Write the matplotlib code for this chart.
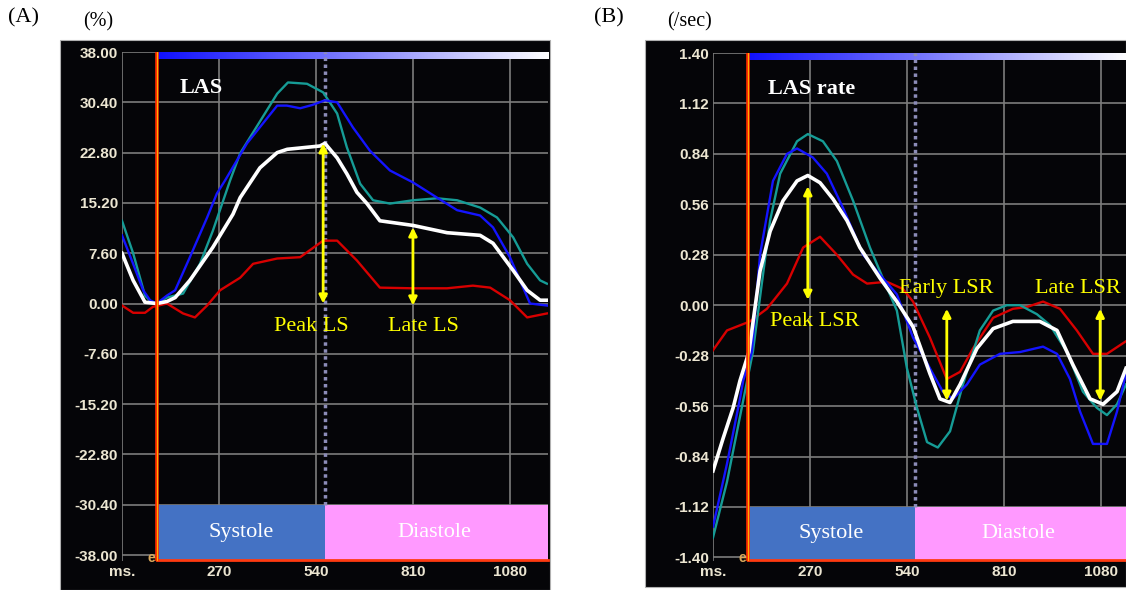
import numpy as np
import matplotlib.pyplot as plt
from matplotlib.patches import Rectangle
from matplotlib.colors import LinearSegmentedColormap

W, H = 1126, 590

# ---------------- panel A: LA strain (%) ----------------
a_yticks = [38.0, 30.4, 22.8, 15.2, 7.6, 0.0, -7.6, -15.2, -22.8, -30.4, -38.0]
a_ylabels = ["38.00", "30.40", "22.80", "15.20", "7.60", "0.00",
             "-7.60", "-15.20", "-22.80", "-30.40", "-38.00"]

a_white_ms = [0, 31, 64, 97, 125, 148, 189, 253, 309, 329, 384, 432, 460, 551, 565,
              599, 626, 654, 682, 718, 810, 905, 997, 1033, 1089, 1128, 1164, 1186]
a_white = [7.6, 3.5, 0.2, 0.0, 0.3, 0.9, 3.5, 8.5, 13.5, 16.0, 20.5, 22.8, 23.3, 23.8, 24.2,
           22.0, 19.6, 16.8, 15.1, 12.5, 11.8, 10.7, 10.3, 9.1, 5.0, 2.0, 0.5, 0.5]

a_blue_ms = [0, 31, 59, 78, 97, 125, 148, 189, 237, 264, 287, 348, 432, 459, 496, 530,
             565, 599, 643, 690, 746, 810, 877, 933, 997, 1033, 1080, 1108, 1136, 1183]
a_blue = [10.3, 6.0, 2.0, 0.5, 0.0, 1.2, 2.0, 7.0, 13.0, 16.6, 18.6, 24.2, 29.9, 29.9, 29.5, 30.0,
          30.7, 30.4, 26.6, 23.1, 20.1, 18.3, 16.0, 14.1, 13.3, 11.5, 7.0, 3.5, 0.0, -0.3]

a_teal_ms = [0, 31, 64, 86, 97, 125, 170, 217, 253, 301, 329, 432, 462, 515, 560,
             599, 626, 663, 699, 746, 810, 877, 933, 997, 1044, 1089, 1128, 1164, 1183]
a_teal = [12.5, 7.6, 1.2, 0.0, 0.0, 0.9, 1.5, 6.0, 11.0, 18.6, 22.7, 31.7, 33.4, 33.2, 31.9,
          28.7, 23.6, 18.1, 15.6, 15.1, 15.6, 15.9, 15.6, 14.5, 13.0, 10.0, 6.0, 3.5, 3.0]

a_red_ms = [0, 31, 64, 86, 125, 170, 203, 237, 273, 329, 365, 432, 496, 560,
            599, 654, 718, 810, 905, 977, 1025, 1080, 1128, 1183]
a_red = [-0.3, -1.4, -1.4, -0.5, 0.0, -1.5, -2.1, -0.3, 2.0, 3.9, 6.0, 6.8, 7.0, 9.5,
         9.5, 6.5, 2.4, 2.3, 2.3, 2.7, 2.4, 0.5, -2.1, -1.5]

# ---------------- panel B: LA strain rate (/sec) ----------------
b_yticks = [1.40, 1.12, 0.84, 0.56, 0.28, 0.0, -0.28, -0.56, -0.84, -1.12, -1.40]
b_ylabels = ["1.40", "1.12", "0.84", "0.56", "0.28", "0.00",
             "-0.28", "-0.56", "-0.84", "-1.12", "-1.40"]

b_white_ms = [0, 28, 56, 75, 100, 131, 159, 195, 234, 264, 298, 334, 373, 409, 465, 512,
              557, 604, 632, 660, 688, 735, 780, 835, 910, 958, 1002, 1050, 1086, 1125, 1150]
b_white = [-0.92, -0.74, -0.57, -0.42, -0.26, 0.19, 0.41, 0.58, 0.69, 0.72, 0.68, 0.59, 0.47, 0.32,
           0.15, 0.02, -0.12, -0.38, -0.52, -0.54, -0.44, -0.24, -0.13, -0.09, -0.09, -0.14,
           -0.33, -0.52, -0.55, -0.48, -0.35]

b_blue_ms = [0, 39, 75, 84, 108, 131, 167, 206, 234, 278, 317, 362, 418, 465, 512, 557, 604,
             640, 668, 707, 743, 799, 855, 919, 958, 994, 1022, 1058, 1097, 1125, 1150]
b_blue = [-1.23, -0.88, -0.52, -0.42, -0.26, 0.28, 0.69, 0.84, 0.87, 0.82, 0.73, 0.54, 0.28,
          0.17, 0.06, -0.18, -0.35, -0.48, -0.52, -0.44, -0.33, -0.27, -0.26, -0.23, -0.27,
          -0.41, -0.59, -0.77, -0.77, -0.59, -0.38]

b_teal_ms = [0, 39, 95, 111, 159, 187, 234, 264, 306, 345, 390, 437, 473, 512, 540, 568,
             596, 626, 660, 696, 743, 780, 818, 855, 902, 938, 986, 1030, 1069, 1097, 1125, 1150]
b_teal = [-1.29, -0.98, -0.42, -0.26, 0.47, 0.73, 0.91, 0.95, 0.91, 0.80, 0.58, 0.32, 0.15,
          -0.03, -0.35, -0.57, -0.76, -0.79, -0.70, -0.44, -0.14, -0.03, 0.0, 0.0, -0.05,
          -0.11, -0.26, -0.48, -0.57, -0.61, -0.55, -0.44]

b_red_ms = [0, 39, 103, 150, 206, 251, 298, 345, 390, 429, 484, 529, 557, 604, 651, 688,
            724, 780, 835, 874, 919, 966, 1013, 1058, 1097, 1150]
b_red = [-0.25, -0.14, -0.09, -0.02, 0.12, 0.32, 0.38, 0.28, 0.17, 0.12, 0.13, 0.09, 0.02,
         -0.18, -0.41, -0.37, -0.24, -0.07, -0.02, -0.01, 0.02, -0.02, -0.14, -0.27, -0.27, -0.20]

x_ticks = [0, 270, 540, 810, 1080]
x_labels = ["ms.", "270", "540", "810", "1080"]

SERIF = "Liberation Serif"
SANS = "Liberation Sans"
TICK_COL = "#ECE6D2"
BLUE = "#1414FF"
TEAL = "#169C96"
RED = "#D80000"
SYS_COL = "#4472C4"
DIA_COL = "#FF99FF"

bar_cmap = LinearSegmentedColormap.from_list("bar", ["#1010FF", "#8080FF", "#FFFFFF"])


def fig_box(x0, y0, x1, y1):
    return [x0 / W, 1 - y1 / H, (x1 - x0) / W, (y1 - y0) / H]


def style_panel(ax, yticks, ylabels, xmax, ymin, ymax, onset, split, box_top, unit):
    ax.set_facecolor("#050508")
    for s in ax.spines.values():
        s.set_visible(False)
    ax.set_yticks(yticks, labels=ylabels, fontsize=11, fontweight="bold",
                  color=TICK_COL, family=SANS)
    ax.set_xticks(x_ticks, labels=x_labels, fontsize=11, fontweight="bold",
                  color=TICK_COL, family=SANS)
    ax.tick_params(length=0, pad=3)
    ax.grid(True, color="#7C7C7C", lw=1.2)

    # blue -> white bar along top
    grad = np.linspace(0, 1, 256).reshape(1, -1)
    ax.imshow(grad, cmap=bar_cmap, aspect="auto", zorder=3,
              extent=[onset, xmax, ymax - 7 * unit, ymax])

    # systole / diastole boxes
    ax.add_patch(Rectangle((onset, ymin), split - onset, box_top - ymin,
                           facecolor=SYS_COL, edgecolor="none", zorder=3))
    ax.add_patch(Rectangle((split, ymin), xmax - split, box_top - ymin,
                           facecolor=DIA_COL, edgecolor="none", zorder=3))
    ax.text((onset + split) / 2, (box_top + ymin) / 2, "Systole", color="white",
            family=SERIF, fontsize=16, ha="center", va="center", zorder=4)
    ax.text((split + xmax) / 2 - 5, (box_top + ymin) / 2, "Diastole", color="white",
            family=SERIF, fontsize=16, ha="center", va="center", zorder=4)
    ax.plot([onset, xmax], [ymin + unit * 0.6, ymin + unit * 0.6], color="#FF3A10",
            lw=2, zorder=5, clip_on=False)

    # dotted end-systole marker and onset line
    ax.plot([split, split], [box_top, ymax], color="#8C8CB8", lw=2.5,
            ls=(0, (1, 1)), zorder=3)
    ax.plot([onset, onset], [ymin, ymax], color="#FF2A00", lw=2.6, zorder=6)
    ax.plot([onset, onset], [ymin, ymax], color="#FFB000", lw=0.8, zorder=6)
    ax.text(onset - 4, ymin + 3.5 * unit, "e", color="#D9A85B", fontsize=10,
            fontweight="bold", family=SANS, ha="right", va="center", zorder=6)

    ax.set_xlim(0, xmax)
    ax.set_ylim(ymin, ymax)


def yellow_arrow(ax, x, y0, y1):
    ax.annotate("", xy=(x, y1), xytext=(x, y0),
                arrowprops=dict(arrowstyle="<|-|>", color="#FFFF00", lw=2,
                                mutation_scale=12, shrinkA=0, shrinkB=0), zorder=7)


def yellow_text(ax, x, y, s, ha="center"):
    ax.text(x, y, s, color="#FFFF00", family=SERIF, fontsize=16, ha=ha,
            va="center", zorder=7)


fig = plt.figure(figsize=(W / 100, H / 100), dpi=100)
fig.patch.set_facecolor("white")

# black instrument backgrounds
fig.add_artist(Rectangle((60 / W, 0), 490 / W, 550 / H, transform=fig.transFigure,
                         facecolor="#050508", edgecolor="#B0B0B0", lw=0.8, zorder=-1))
fig.add_artist(Rectangle((645 / W, 3 / H), 481 / W, 547 / H, transform=fig.transFigure,
                         facecolor="#050508", edgecolor="#B0B0B0", lw=0.8, zorder=-1))

# ---- (A) LAS ----
ax1 = fig.add_axes(fig_box(122, 52, 548, 561))
u1 = 76.9 / 509
style_panel(ax1, a_yticks, a_ylabels, 1186, -38.9, 38.0, 97, 565, -30.4, u1)
ax1.plot(a_red_ms, a_red, color=RED, lw=1.7, zorder=4)
ax1.plot(a_teal_ms, a_teal, color=TEAL, lw=1.7, zorder=4)
ax1.plot(a_blue_ms, a_blue, color=BLUE, lw=1.7, zorder=4)
ax1.plot(a_white_ms, a_white, color="white", lw=2.6, zorder=5)
ax1.text(161, 32.5, "LAS", color="white", family=SERIF, fontsize=16,
         fontweight="bold", ha="left", va="center", zorder=7)
yellow_arrow(ax1, 560, 0.0, 24.2)
yellow_arrow(ax1, 810, -0.3, 11.5)
yellow_text(ax1, 526, -3.5, "Peak LS")
yellow_text(ax1, 838, -3.5, "Late LS")

# ---- (B) LAS rate ----
ax2 = fig.add_axes(fig_box(713, 53, 1126, 561))
u2 = 2.82 / 508
style_panel(ax2, b_yticks, b_ylabels, 1150, -1.42, 1.40, 97, 562, -1.12, u2)
ax2.plot(b_red_ms, b_red, color=RED, lw=1.7, zorder=4)
ax2.plot(b_teal_ms, b_teal, color=TEAL, lw=1.7, zorder=4)
ax2.plot(b_blue_ms, b_blue, color=BLUE, lw=1.7, zorder=4)
ax2.plot(b_white_ms, b_white, color="white", lw=2.6, zorder=5)
ax2.text(153, 1.20, "LAS rate", color="white", family=SERIF, fontsize=16,
         fontweight="bold", ha="left", va="center", zorder=7)
yellow_arrow(ax2, 264, 0.03, 0.66)
yellow_arrow(ax2, 651, -0.53, -0.02)
yellow_arrow(ax2, 1078, -0.53, -0.02)
yellow_text(ax2, 284, -0.09, "Peak LSR")
yellow_text(ax2, 649, 0.09, "Early LSR")
yellow_text(ax2, 896, 0.09, "Late LSR", ha="left")

# panel letters and units
fig.text(8 / W, 1 - 18 / H, "(A)", family=SERIF, fontsize=16, va="center")
fig.text(83 / W, 1 - 22 / H, "(%)", family=SERIF, fontsize=14.5, va="center")
fig.text(594 / W, 1 - 18 / H, "(B)", family=SERIF, fontsize=16, va="center")
fig.text(667 / W, 1 - 22 / H, "(/sec)", family=SERIF, fontsize=14.5, va="center")

fig.savefig("out.png", dpi=100, facecolor=fig.get_facecolor())
